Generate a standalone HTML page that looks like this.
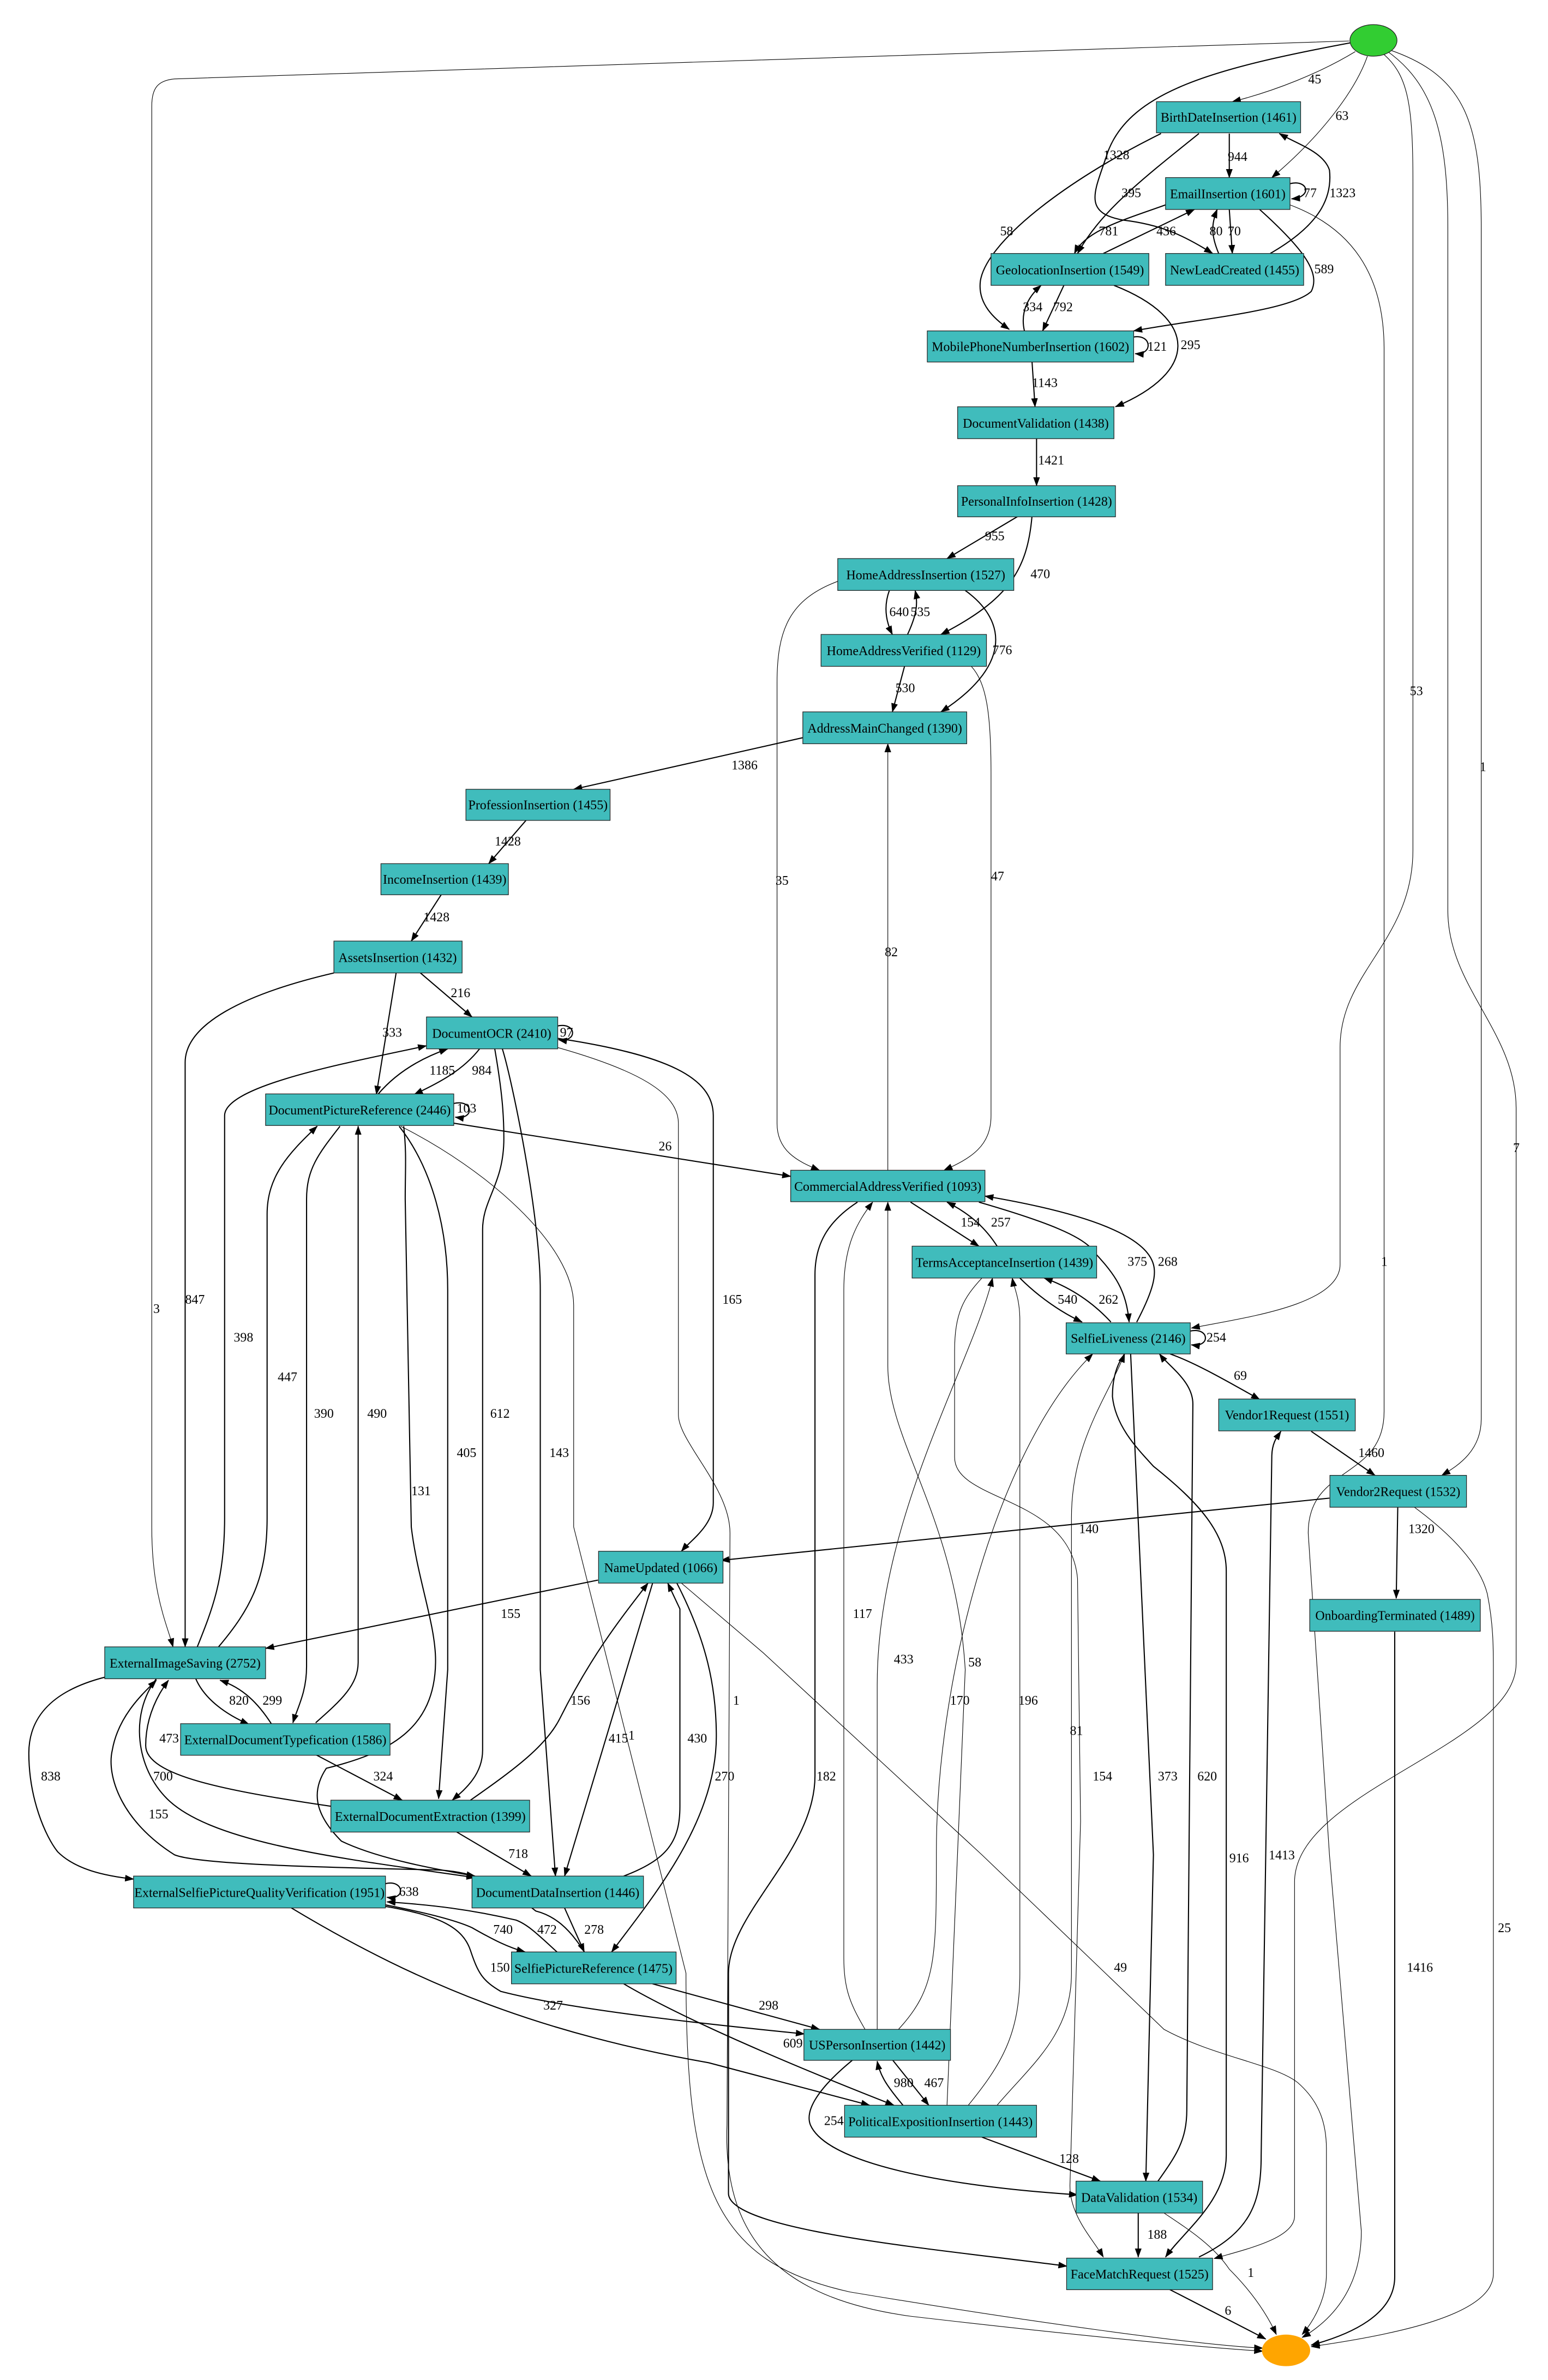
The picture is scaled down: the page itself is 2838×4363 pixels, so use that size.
<!DOCTYPE html>
<html><head><meta charset="utf-8"><style>
html,body{margin:0;padding:0;background:#fff}
svg{display:block}
text{font-family:"Liberation Serif",serif;font-size:8.6px;fill:#000}
.e{fill:none;stroke:#000;stroke-width:0.75}
.t{fill:none;stroke:#000;stroke-width:0.4}
.n{fill:#40BCBC;stroke:#222;stroke-width:0.45}
</style></head><body>
<svg width="2838" height="4363" viewBox="0 0 1020 1568" preserveAspectRatio="none" xmlns="http://www.w3.org/2000/svg">
<defs><marker id="a" markerUnits="userSpaceOnUse" markerWidth="6" markerHeight="4.4" refX="5.6" refY="2.2" orient="auto"><path d="M0,0 L6,2.2 L0,4.4 z" fill="#000"/></marker></defs>
<rect width="1020" height="1568" fill="#fff"/>
<g marker-end="url(#a)">
<path class="t" d="M893,34 C870,48 840,60 812,67"/>
<path class="t" d="M901,37 C893,60 870,90 838,117"/>
<path class="e" d="M891,28 C800,45 745,60 730,100 C722,125 712,140 740,145 C765,148 780,155 799,167"/>
<path class="t" d="M889,27 L115,52 C104,53 100,58 100,70 L100,1006 C100,1050 110,1070 114,1085"/>
<path class="t" d="M912,36 C928,50 931,70 931,120 L931,560 C931,620 883,640 883,690 L883,833 C883,860 820,868 785,875"/>
<path class="t" d="M916,33 C965,50 976,80 976,150 L976,935 C976,955 962,965 950,972"/>
<path class="t" d="M913,33 C945,55 954,90 954,150 L954,600 C954,650 999,680 999,730 L999,1096 C999,1150 853,1180 853,1240 L853,1460 C853,1475 820,1482 800,1488"/>
<path class="t" d="M850,135 C890,150 912,180 912,230 L912,930 C912,975 862,965 862,1010 L876,1222 L897,1470 C897,1510 875,1530 858,1540"/>
<path class="e" d="M810,88 L810,117"/>
<path class="e" d="M790,88 C750,120 725,140 710,167"/>
<path class="e" d="M765,88 C700,120 650,160 646,185 C644,200 655,210 665,217"/>
<path class="e" d="M850,121 C862,118 865,130 851,131"/>
<path class="e" d="M837,167 C870,148 878,130 876,112 C872,100 855,95 843,88"/>
<path class="e" d="M768,135 C740,145 715,152 708,167"/>
<path class="e" d="M727,167 L787,138"/>
<path class="e" d="M803,167 C798,155 798,148 802,138"/>
<path class="e" d="M810,138 L812,167"/>
<path class="e" d="M830,138 C860,165 870,180 864,192 C850,205 790,210 747,218"/>
<path class="e" d="M701,188 L687,218"/>
<path class="e" d="M675,218 C672,205 678,195 686,188"/>
<path class="e" d="M747,222 C759,220 760,234 748,233"/>
<path class="e" d="M734,188 C790,210 790,245 735,268"/>
<path class="e" d="M680,238 L682,268"/>
<path class="e" d="M683,289 L683,320"/>
<path class="e" d="M671,340 L624,368"/>
<path class="e" d="M680,340 C677,375 665,395 620,418"/>
<path class="e" d="M586,389 C582,400 584,410 588,418"/>
<path class="e" d="M598,418 C604,405 605,398 603,389"/>
<path class="e" d="M636,389 C665,410 665,440 620,469"/>
<path class="t" d="M552,383 C520,395 512,415 512,450 L512,740 C512,758 525,765 540,771"/>
<path class="e" d="M596,439 L588,469"/>
<path class="t" d="M640,439 C650,450 653,470 653,510 L653,735 C653,755 640,763 622,771"/>
<path class="t" d="M585,771 L585,490"/>
<path class="e" d="M529,486 L378,520"/>
<path class="e" d="M347,540 L322,569"/>
<path class="e" d="M291,589 L271,620"/>
<path class="e" d="M277,641 L311,670"/>
<path class="e" d="M261,641 L248,721"/>
<path class="e" d="M220,641 C160,655 122,675 122,700 L122,1085"/>
<path class="e" d="M367,676 C380,673 381,687 368,685"/>
<path class="e" d="M316,691 C305,705 290,713 273,721"/>
<path class="e" d="M249,721 C260,708 275,698 295,691"/>
<path class="e" d="M299,727 C312,724 313,738 300,736"/>
<path class="e" d="M130,1085 C140,1060 148,1040 148,1000 L148,735 C148,715 230,700 281,689"/>
<path class="e" d="M144,1085 C165,1060 176,1040 176,1000 L176,800 C176,775 190,760 209,742"/>
<path class="e" d="M224,742 C210,760 202,770 202,790 L202,1098 C202,1115 196,1125 193,1135"/>
<path class="e" d="M208,1135 C225,1120 236,1110 236,1095 L236,742"/>
<path class="e" d="M326,691 C331,720 332,735 332,750 C332,780 318,790 318,810 L318,1153 C318,1170 305,1180 298,1186"/>
<path class="e" d="M331,691 C337,710 356,800 356,850 L356,1100 L366,1236"/>
<path class="e" d="M263,742 C285,770 295,810 295,850 L295,1100 L289,1185"/>
<path class="e" d="M266,742 C268,760 267,770 267,790 L271,1006 C275,1040 287,1070 287,1094 C287,1140 255,1155 215,1165 C205,1180 207,1195 225,1213 C250,1225 290,1232 313,1236"/>
<path class="t" d="M264,742 C320,770 378,820 378,860 L378,1006 L452,1300 C452,1440 470,1490 560,1510 C680,1530 790,1545 832,1547"/>
<path class="t" d="M367,690 C420,705 447,720 447,740 L447,932 C447,950 481,980 481,1010 L479,1400 C476,1480 520,1515 600,1526 C720,1540 800,1547 832,1549"/>
<path class="e" d="M299,740 L521,775"/>
<path class="e" d="M367,684 C440,695 470,710 470,735 L470,990 C470,1005 455,1015 449,1022"/>
<path class="e" d="M394,1041 L175,1086"/>
<path class="e" d="M129,1106 C135,1120 150,1130 164,1136"/>
<path class="e" d="M179,1136 C170,1122 160,1112 145,1107"/>
<path class="e" d="M218,1190 C150,1180 96,1170 96,1150 C96,1130 105,1115 111,1107"/>
<path class="e" d="M69,1105 C30,1115 19,1135 19,1155 C19,1185 30,1210 38,1220 C50,1232 70,1236 88,1238"/>
<path class="e" d="M103,1106 C85,1130 90,1165 110,1185 C140,1215 230,1225 313,1237"/>
<path class="e" d="M385,1286 C375,1270 365,1262 353,1259 C330,1240 310,1233 289,1232 C200,1230 130,1228 115,1222 C80,1200 70,1170 74,1153 C78,1130 95,1115 103,1107"/>
<path class="e" d="M208,1156 L265,1186"/>
<path class="e" d="M310,1186 C340,1165 360,1150 369,1132 C390,1090 410,1065 427,1043"/>
<path class="e" d="M301,1207 L350,1236"/>
<path class="e" d="M430,1043 L372,1236"/>
<path class="e" d="M411,1236 C440,1225 448,1213 448,1190 L448,1060 L440,1043"/>
<path class="e" d="M446,1043 C465,1080 472,1110 472,1144 C472,1200 430,1250 403,1286"/>
<path class="t" d="M449,1043 L503,1089 L647,1222 L767,1337 C800,1355 840,1360 855,1372 C870,1385 874,1400 874,1416 L874,1498 C874,1515 865,1530 858,1538"/>
<path class="e" d="M372,1257 L385,1286"/>
<path class="e" d="M254,1241 C266,1238 268,1252 255,1250"/>
<path class="e" d="M254,1255 C280,1260 300,1265 311,1270 C325,1278 335,1283 346,1286"/>
<path class="e" d="M367,1286 C355,1275 348,1268 340,1265 C310,1258 285,1255 255,1253"/>
<path class="e" d="M254,1256 C290,1262 305,1270 310,1285 C315,1300 318,1305 330,1312 C380,1325 480,1335 530,1340"/>
<path class="e" d="M192,1257 C280,1310 360,1340 467,1359 L573,1387"/>
<path class="e" d="M430,1307 L540,1337"/>
<path class="e" d="M411,1307 C450,1330 520,1360 589,1387"/>
<path class="e" d="M588,1357 L612,1387"/>
<path class="e" d="M595,1387 C585,1375 580,1368 578,1358"/>
<path class="e" d="M562,1357 C540,1375 530,1390 534,1400 C545,1425 620,1440 710,1446"/>
<path class="e" d="M647,1408 L725,1437"/>
<path class="e" d="M750,1458 L750,1487"/>
<path class="t" d="M767,1458 C785,1470 800,1480 810,1495 C825,1510 835,1525 841,1538"/>
<path class="e" d="M770,1508 L834,1541"/>
<path class="e" d="M919,1075 L919,1500 C919,1525 890,1538 864,1545"/>
<path class="t" d="M932,993 C955,1010 975,1030 980,1050 C984,1070 984,1085 984,1100 L984,1498 C984,1525 920,1538 864,1546"/>
<path class="e" d="M921,993 L920,1053"/>
<path class="e" d="M876,987 L475,1028"/>
<path class="e" d="M864,943 L906,972"/>
<path class="e" d="M771,892 C785,897 800,905 830,922"/>
<path class="e" d="M784,877 C797,874 798,888 785,886"/>
<path class="e" d="M600,792 L645,821"/>
<path class="e" d="M657,821 C650,810 640,800 624,792"/>
<path class="e" d="M645,792 C690,805 715,815 721,825 C735,840 742,850 744,871"/>
<path class="e" d="M749,871 C760,850 762,840 760,833 C755,815 720,800 649,788"/>
<path class="e" d="M672,842 C685,855 700,865 713,871"/>
<path class="e" d="M732,871 C720,858 705,848 688,842"/>
<path class="e" d="M565,792 C545,805 537,820 537,840 L537,1170 C537,1220 480,1260 480,1300 L480,1445 C480,1470 620,1482 703,1493"/>
<path class="t" d="M570,1337 C560,1320 556,1310 556,1290 L556,850 C556,820 565,805 575,792"/>
<path class="t" d="M578,1337 L578,1110 C578,1000 640,900 654,842"/>
<path class="t" d="M592,1337 C617,1310 617,1290 617,1220 C617,1100 660,950 720,892"/>
<path class="t" d="M624,1387 L636,1100 C630,1000 585,950 585,900 L585,792"/>
<path class="t" d="M638,1387 C660,1360 672,1340 672,1300 L672,870 C672,855 668,848 667,842"/>
<path class="t" d="M657,1387 C680,1360 706,1340 706,1300 L706,1000 C706,950 730,920 741,892"/>
<path class="t" d="M647,842 C635,855 629,865 629,890 L629,960 C629,990 705,985 710,1040 L712,1200 L705,1440 C705,1460 720,1475 727,1487"/>
<path class="e" d="M745,892 L760,1222 L755,1437"/>
<path class="e" d="M763,1437 C775,1420 782,1410 782,1390 L786,925 C786,910 770,900 764,892"/>
<path class="e" d="M741,892 C735,900 733,910 733,920 C735,940 750,955 760,966 C790,990 808,1010 808,1035 L808,1420 C808,1450 780,1470 768,1487"/>
<path class="e" d="M790,1487 C825,1470 831,1450 831,1420 L838,960 C838,950 842,946 844,943"/>
</g>
<ellipse cx="905" cy="26.6" rx="15.5" ry="10.4" fill="#32CD32" stroke="#222" stroke-width="0.45"/>
<ellipse cx="847.4" cy="1548.5" rx="15.9" ry="10.4" fill="#FFA500"/>
<g>
<rect class="n" x="762" y="67" width="95" height="20.5"/><text x="809.5" y="80.2" text-anchor="middle">BirthDateInsertion (1461)</text>
<rect class="n" x="768" y="117" width="82" height="21"/><text x="809" y="130.7" text-anchor="middle">EmailInsertion (1601)</text>
<rect class="n" x="653" y="167" width="104" height="21"/><text x="705" y="180.7" text-anchor="middle">GeolocationInsertion (1549)</text>
<rect class="n" x="768" y="167" width="91" height="21"/><text x="813.5" y="180.7" text-anchor="middle">NewLeadCreated (1455)</text>
<rect class="n" x="611" y="218" width="136" height="20.5"/><text x="679" y="231.2" text-anchor="middle">MobilePhoneNumberInsertion (1602)</text>
<rect class="n" x="631" y="268" width="103" height="21"/><text x="682.5" y="281.7" text-anchor="middle">DocumentValidation (1438)</text>
<rect class="n" x="631" y="320" width="104" height="20.5"/><text x="683" y="333.2" text-anchor="middle">PersonalInfoInsertion (1428)</text>
<rect class="n" x="552" y="368" width="116" height="21"/><text x="610" y="381.7" text-anchor="middle">HomeAddressInsertion (1527)</text>
<rect class="n" x="541" y="418" width="109" height="21"/><text x="595.5" y="431.7" text-anchor="middle">HomeAddressVerified (1129)</text>
<rect class="n" x="529" y="469" width="108" height="21"/><text x="583" y="482.7" text-anchor="middle">AddressMainChanged (1390)</text>
<rect class="n" x="307" y="520" width="95" height="20.5"/><text x="354.5" y="533.2" text-anchor="middle">ProfessionInsertion (1455)</text>
<rect class="n" x="251" y="569" width="84" height="20.5"/><text x="293" y="582.2" text-anchor="middle">IncomeInsertion (1439)</text>
<rect class="n" x="220" y="620" width="84.5" height="21"/><text x="262" y="633.7" text-anchor="middle">AssetsInsertion (1432)</text>
<rect class="n" x="281" y="670" width="86.5" height="21"/><text x="324" y="683.7" text-anchor="middle">DocumentOCR (2410)</text>
<rect class="n" x="175" y="720.7" width="124" height="20.8"/><text x="237" y="734.2" text-anchor="middle">DocumentPictureReference (2446)</text>
<rect class="n" x="521" y="771" width="128" height="20.7"/><text x="585" y="784.5" text-anchor="middle">CommercialAddressVerified (1093)</text>
<rect class="n" x="601" y="821" width="121.6" height="21"/><text x="661.8" y="834.7" text-anchor="middle">TermsAcceptanceInsertion (1439)</text>
<rect class="n" x="702.5" y="871.5" width="81.8" height="20.5"/><text x="743.4" y="884.7" text-anchor="middle">SelfieLiveness (2146)</text>
<rect class="n" x="803" y="921.7" width="90" height="21"/><text x="848" y="935.2" text-anchor="middle">Vendor1Request (1551)</text>
<rect class="n" x="876.3" y="972" width="90" height="21"/><text x="921.3" y="985.7" text-anchor="middle">Vendor2Request (1532)</text>
<rect class="n" x="863" y="1053.7" width="112.4" height="21"/><text x="919.2" y="1067.2" text-anchor="middle">OnboardingTerminated (1489)</text>
<rect class="n" x="394.4" y="1022" width="82" height="21"/><text x="435.4" y="1035.7" text-anchor="middle">NameUpdated (1066)</text>
<rect class="n" x="69" y="1085" width="106" height="21"/><text x="122" y="1098.7" text-anchor="middle">ExternalImageSaving (2752)</text>
<rect class="n" x="119" y="1135.6" width="138" height="20.8"/><text x="188" y="1149.2" text-anchor="middle">ExternalDocumentTypefication (1586)</text>
<rect class="n" x="218" y="1186" width="131" height="21"/><text x="283.5" y="1199.7" text-anchor="middle">ExternalDocumentExtraction (1399)</text>
<rect class="n" x="88" y="1236" width="166" height="21"/><text x="171" y="1249.7" text-anchor="middle">ExternalSelfiePictureQualityVerification (1951)</text>
<rect class="n" x="311" y="1236" width="113" height="21"/><text x="367.5" y="1249.7" text-anchor="middle">DocumentDataInsertion (1446)</text>
<rect class="n" x="337" y="1286" width="108.5" height="21"/><text x="391" y="1299.7" text-anchor="middle">SelfiePictureReference (1475)</text>
<rect class="n" x="529.7" y="1337" width="96.6" height="20.4"/><text x="578" y="1350.2" text-anchor="middle">USPersonInsertion (1442)</text>
<rect class="n" x="556.5" y="1387" width="126.5" height="21"/><text x="619.7" y="1400.7" text-anchor="middle">PoliticalExpositionInsertion (1443)</text>
<rect class="n" x="709" y="1437" width="83.4" height="21"/><text x="750.7" y="1450.7" text-anchor="middle">DataValidation (1534)</text>
<rect class="n" x="702.8" y="1487.7" width="96.2" height="20.8"/><text x="750.9" y="1501.2" text-anchor="middle">FaceMatchRequest (1525)</text>
</g>
<g>
<text x="862" y="55">45</text><text x="880" y="79">63</text><text x="727" y="105">1328</text><text x="101" y="865">3</text>
<text x="929" y="458">53</text><text x="975" y="508">1</text><text x="997" y="759">7</text><text x="910" y="834">1</text>
<text x="809" y="106">944</text><text x="739" y="130">395</text><text x="659" y="155">58</text><text x="859" y="130">77</text>
<text x="876" y="130">1323</text><text x="724" y="155">781</text><text x="762" y="155">436</text><text x="797" y="155">80</text>
<text x="809" y="155">70</text><text x="866" y="180">589</text><text x="694" y="205">792</text><text x="674" y="205">334</text>
<text x="756" y="231">121</text><text x="778" y="230">295</text><text x="680" y="255">1143</text><text x="684" y="306">1421</text>
<text x="649" y="356">955</text><text x="679" y="381">470</text><text x="586" y="406">640</text><text x="600" y="406">535</text>
<text x="654" y="431">776</text><text x="511" y="583">35</text><text x="590" y="456">530</text><text x="653" y="580">47</text>
<text x="583" y="630">82</text><text x="482" y="507">1386</text><text x="326" y="557">1428</text><text x="279" y="607">1428</text>
<text x="297" y="657">216</text><text x="252" y="683">333</text><text x="122" y="859">847</text><text x="369" y="683">97</text>
<text x="283" y="708">1185</text><text x="311" y="708">984</text><text x="301" y="733">103</text><text x="434" y="758">26</text>
<text x="154" y="884">398</text><text x="476" y="859">165</text><text x="183" y="910">447</text><text x="207" y="934">390</text>
<text x="242" y="934">490</text><text x="323" y="934">612</text><text x="301" y="960">405</text><text x="362" y="960">143</text>
<text x="271" y="985">131</text><text x="414" y="1146">1</text><text x="483" y="1123">1</text>
<text x="330" y="1066">155</text><text x="151" y="1123">820</text><text x="173" y="1123">299</text><text x="105" y="1148">473</text>
<text x="27" y="1173">838</text><text x="101" y="1173">700</text><text x="98" y="1198">155</text><text x="246" y="1173">324</text>
<text x="376" y="1123">156</text><text x="335" y="1224">718</text><text x="401" y="1148">415</text><text x="453" y="1148">430</text>
<text x="471" y="1173">270</text><text x="734" y="1299">49</text><text x="385" y="1274">278</text><text x="263" y="1249">638</text>
<text x="325" y="1274">740</text><text x="354" y="1274">472</text><text x="323" y="1299">150</text><text x="358" y="1324">327</text>
<text x="500" y="1324">298</text><text x="516" y="1349">609</text><text x="609" y="1375">467</text><text x="589" y="1375">980</text>
<text x="543" y="1400">254</text><text x="698" y="1425">128</text><text x="756" y="1475">188</text><text x="822" y="1500">1</text>
<text x="807" y="1525">6</text><text x="927" y="1299">1416</text><text x="987" y="1273">25</text><text x="928" y="1010">1320</text>
<text x="711" y="1010">140</text><text x="895" y="960">1460</text><text x="813" y="909">69</text><text x="795" y="884">254</text>
<text x="633" y="808">154</text><text x="653" y="808">257</text><text x="743" y="834">375</text><text x="763" y="834">268</text>
<text x="697" y="859">540</text><text x="724" y="859">262</text><text x="538" y="1173">182</text><text x="562" y="1066">117</text>
<text x="589" y="1096">433</text><text x="626" y="1123">170</text><text x="638" y="1098">58</text><text x="671" y="1123">196</text>
<text x="705" y="1143">81</text><text x="720" y="1173">154</text><text x="763" y="1173">373</text><text x="789" y="1173">620</text>
<text x="810" y="1227">916</text><text x="836" y="1225">1413</text>
</g>
</svg>
</body></html>
